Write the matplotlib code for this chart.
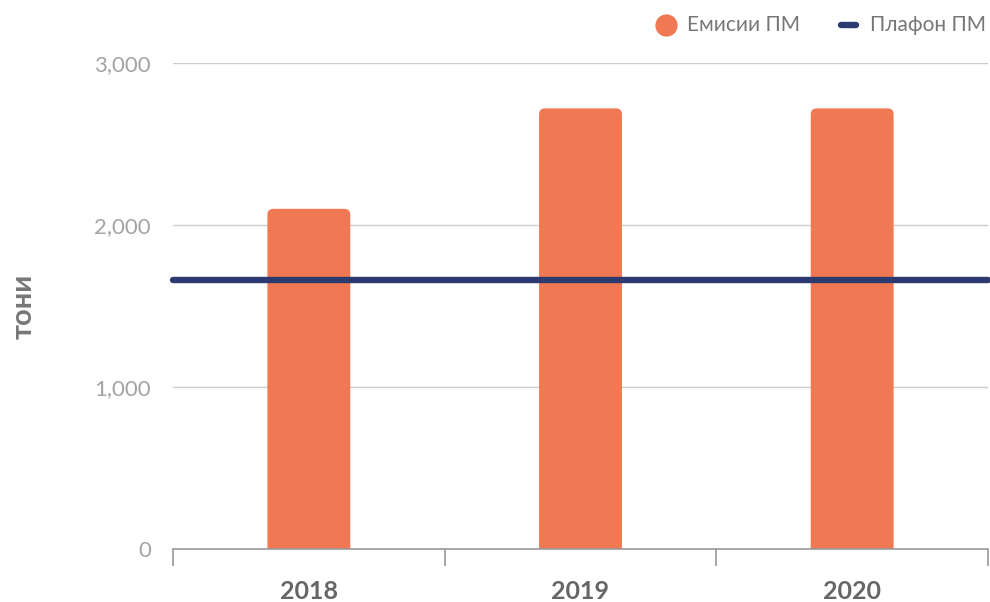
"""
Годишни емисии на ПМ спрямо плафона, 2018-2020.
"""

import matplotlib
matplotlib.use("Agg")
import matplotlib.pyplot as plt
from matplotlib.patches import FancyBboxPatch
from matplotlib.lines import Line2D

plt.rcParams["font.family"] = ["Lato", "DejaVu Sans"]

YEARS = ["2018", "2019", "2020"]
EMISSIONS = [2100, 2720, 2720]      # тона
CEILING = 1660                      # тона
Y_TICKS = [0, 1000, 2000, 3000]

BAR_COLOR = "#f07852"
LINE_COLOR = "#2c3a6f"
GRID_COLOR = "#cccccc"
AXIS_COLOR = "#9a9a9a"


def rounded_bars(ax, bars, r_x, r_y):
    """Swap plain bars for ones with rounded top corners."""
    for b in bars:
        b.set_visible(False)
        patch = FancyBboxPatch(
            (b.get_x(), b.get_y() - r_y), b.get_width(), b.get_height() + r_y,
            boxstyle=f"round,pad=0,rounding_size={r_x}",
            mutation_aspect=r_y / r_x,
            facecolor=b.get_facecolor(), edgecolor="none", zorder=2,
        )
        ax.add_patch(patch)


def main():
    fig = plt.figure(figsize=(9.9, 6.02), dpi=100)
    ax = fig.add_axes([173 / 990, 1 - 549 / 602, 815 / 990, 486 / 602])

    x = list(range(len(YEARS)))
    bars = ax.bar(x, EMISSIONS, width=0.305, color=BAR_COLOR, zorder=2)
    rounded_bars(ax, bars, r_x=0.022, r_y=37)

    ax.plot([-0.5, len(YEARS) - 0.5], [CEILING, CEILING], color=LINE_COLOR,
            lw=4.6, solid_capstyle="round", zorder=3, clip_on=False)

    ax.set_xlim(-0.5, len(YEARS) - 0.5)
    ax.set_ylim(0, 3000)

    ax.set_yticks(Y_TICKS)
    ax.set_yticklabels([f"{v:,}" for v in Y_TICKS])
    ax.tick_params(axis="y", length=0, pad=16, labelsize=16, labelcolor="#a3a3a3")
    ax.grid(axis="y", color=GRID_COLOR, lw=1, zorder=0)

    ax.set_xticks(x)
    ax.set_xticklabels(YEARS)
    ax.tick_params(axis="x", which="major", length=0, pad=22, labelsize=18,
                   labelcolor="#666666")
    for lbl in ax.get_xticklabels():
        lbl.set_fontweight("bold")
    ax.set_xticks([i - 0.5 for i in range(len(YEARS) + 1)], minor=True)
    ax.tick_params(axis="x", which="minor", length=12, width=1.2, color=AXIS_COLOR)

    for side in ["left", "right", "top"]:
        ax.spines[side].set_visible(False)
    ax.spines["bottom"].set_color(AXIS_COLOR)
    ax.spines["bottom"].set_linewidth(1.2)
    ax.spines["bottom"].set_zorder(4)

    fig.text(24 / 990, 1 - 306 / 602, "тони", rotation=90, ha="center", va="center",
             fontsize=21, fontweight="bold", color="#777777")

    # легенда
    ly = 1 - 25 / 602
    fig.add_artist(Line2D([666 / 990], [ly], marker="o", markersize=15,
                          color=BAR_COLOR, lw=0))
    fig.text(687 / 990, ly, "Емисии ПМ", ha="left", va="center",
             fontsize=15, color="#777777")
    fig.add_artist(Line2D([841 / 990, 856 / 990], [ly, ly], color=LINE_COLOR,
                          lw=4.6, solid_capstyle="round"))
    fig.text(870 / 990, ly, "Плафон ПМ", ha="left", va="center",
             fontsize=15, color="#777777")

    fig.savefig("out.png", dpi=100)


if __name__ == "__main__":
    main()
